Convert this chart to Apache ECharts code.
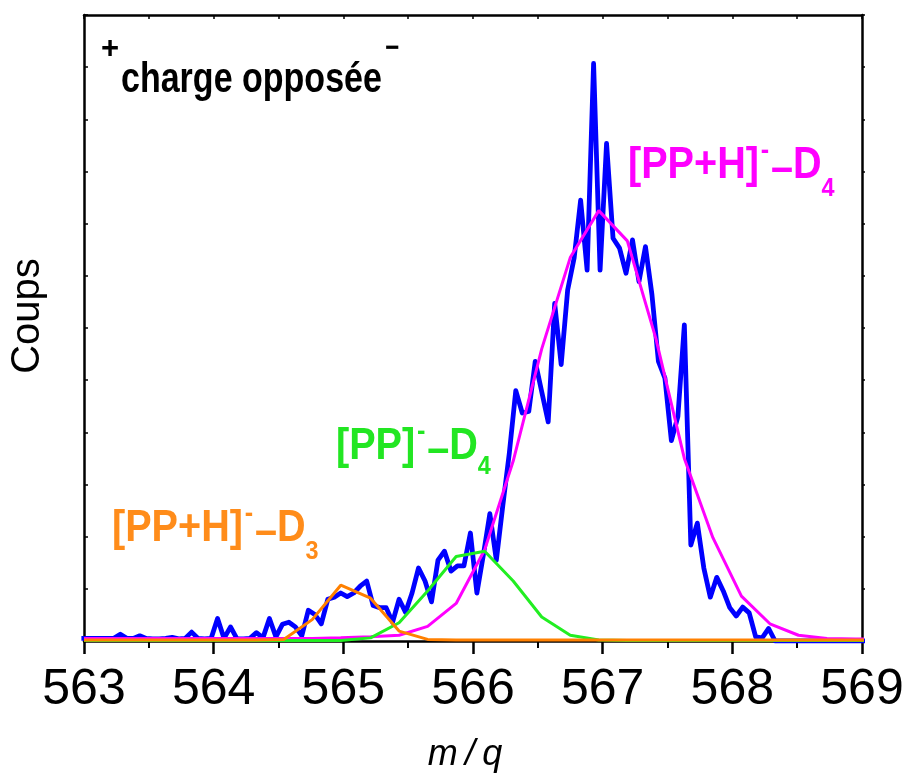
<!DOCTYPE html>
<html>
<head>
<meta charset="utf-8">
<script src="https://cdn.jsdelivr.net/npm/echarts@6/dist/echarts.min.js"></script>
<style>
html,body{margin:0;padding:0;background:#fff;}
#chart{width:904px;height:774px;}
</style>
</head>
<body>
<div id="chart"></div>
<script>
// ---- data ----
var blueX = [562.98,563.03,563.08,563.13,563.18,563.23,563.28,563.33,563.38,563.43,
563.48,563.53,563.58,563.63,563.68,563.73,563.78,563.83,563.88,563.93,
563.98,564.03,564.08,564.13,564.18,564.23,564.28,564.33,564.38,564.43,
564.48,564.53,564.58,564.63,564.68,564.73,564.78,564.83,564.88,564.93,
564.98,565.03,565.08,565.13,565.18,565.23,565.28,565.33,565.38,565.43,
565.48,565.53,565.58,565.63,565.68,565.73,565.78,565.83,565.88,565.93,
565.98,566.03,566.08,566.13,566.18,566.23,566.28,566.33,566.38,566.43,
566.48,566.53,566.58,566.63,566.68,566.73,566.78,566.83,566.88,566.93,
566.98,567.03,567.08,567.13,567.18,567.23,567.28,567.33,567.38,567.43,
567.48,567.53,567.58,567.63,567.68,567.73,567.78,567.83,567.88,567.93,
567.98,568.03,568.08,568.13,568.18,568.23,568.28,568.33,568.38,568.43,
568.48,568.53,568.58,568.63,568.68,568.73,568.78,568.83,568.88,568.93,
568.98,569.03];
var blueY = [0.05,0.05,0.05,0.05,0.05,0.05,0.13,0.05,0.05,0.10,
0.05,0.04,0.04,0.05,0.07,0.04,0.05,0.17,0.05,0.04,
0.05,0.43,0.05,0.27,0.04,0.04,0.05,0.16,0.06,0.43,
0.08,0.32,0.36,0.27,0.10,0.59,0.51,0.33,0.80,0.84,
0.92,0.85,0.92,1.05,1.15,0.68,0.64,0.64,0.36,0.80,
0.55,0.92,1.40,1.15,0.75,1.55,1.72,1.34,1.44,1.44,
2.07,0.92,1.65,2.44,1.55,2.60,3.60,4.80,4.37,4.40,
5.36,4.78,4.20,6.47,5.30,6.73,7.34,8.45,7.11,11.07,
7.11,9.54,7.72,7.53,7.05,7.69,6.89,7.56,6.64,5.36,
5.04,3.84,4.30,6.06,1.84,2.26,1.40,0.84,1.22,0.96,
0.64,0.48,0.65,0.54,0.08,0.06,0.24,0.00,0.00,0.00,
0.00,0.00,0.00,0.00,0.00,0.00,0.00,0.00,0.00,0.00,
0.00,0.00];

var fitX = [563.00,563.22,563.44,563.66,563.88,564.10,564.32,564.54,564.76,564.98,
565.21,565.43,565.65,565.87,566.09,566.31,566.53,566.75,566.97,567.19,
567.41,567.63,567.85,568.07,568.29,568.51,568.73,568.95,569.17];
var magentaY = [0.05,0.05,0.05,0.05,0.05,0.05,0.05,0.05,0.05,0.06,
0.08,0.11,0.28,0.72,1.75,3.45,5.60,7.35,8.25,7.67,
5.80,3.50,1.98,0.86,0.33,0.11,0.05,0.04,0.04];
var greenY = [0.01,0.01,0.01,0.01,0.01,0.01,0.01,0.01,0.01,0.01,
0.06,0.35,0.96,1.62,1.72,1.15,0.46,0.11,0.02,0.01,
0.01,0.01,0.01,0.01,0.01,0.01,0.01,0.01,0.01];
var orangeY = [0.02,0.02,0.02,0.02,0.02,0.02,0.02,0.03,0.41,1.07,
0.82,0.19,0.03,0.02,0.02,0.02,0.02,0.02,0.02,0.02,
0.02,0.02,0.02,0.02,0.02,0.02,0.02,0.02,0.02];

var xTicks = [563,564,565,566,567,568,569];

// ---- helpers ----
function pairs(xs, ys){ var o=[]; for (var i=0;i<xs.length;i++) o.push([xs[i], ys[i]]); return o; }
var FONT = "'Liberation Sans', Arial, Helvetica, sans-serif";
var mctx = document.createElement('canvas').getContext('2d');
function tw(text, size, bold){ mctx.font = (bold?'bold ':'') + size + 'px ' + FONT; return mctx.measureText(text).width; }
// label built from pieces flowing left to right: {t, size, rise, gap}; sx = horizontal condense factor
function label(x0, baseline, color, pieces, sx){
  var kids = [], x = 0;
  pieces.forEach(function(p){
    x += (p.gap || 0);
    kids.push({type:'text', silent:true, style:{
      text:p.t, x:x, y: baseline - p.rise - 0.3465*p.size,
      fill:color, fontSize:p.size, fontWeight:'bold', fontFamily:FONT,
      align:'left', verticalAlign:'middle'}});
    x += tw(p.t, p.size, true);
  });
  return {type:'group', x:x0, y:0, scaleX:sx || 1, scaleY:1, children:kids};
}

var chart = echarts.init(document.getElementById('chart'));
var axisLineStyle = {color:'#000', width:2.5};
var option = {
  animation:false,
  backgroundColor:'#fff',
  grid:{left:84, right:42, top:15, bottom:133, containLabel:false, outerBoundsMode:'none'},
  xAxis:[
    {type:'value', min:563, max:569, interval:1, position:'bottom',
     axisLine:{show:true, onZero:false, lineStyle:axisLineStyle},
     axisTick:{show:true, inside:false, length:13, lineStyle:{color:'#000', width:2.5}},
     minorTick:{show:true, splitNumber:2, length:7, lineStyle:{color:'#000', width:2}},
     splitLine:{show:false},
     axisLabel:{show:true, fontSize:50, color:'#000', margin:24, fontFamily:FONT,
       formatter:function(v){ return xTicks.indexOf(v)>=0 ? String(v) : ''; }},
     name:'m\u2009/\u2009q', nameLocation:'middle', nameGap:96,
     nameTextStyle:{fontSize:36, fontStyle:'italic', color:'#000', fontFamily:FONT, padding:[0,16,0,0]}},
    {type:'value', min:563, max:569, interval:0.5, position:'top',
     axisLine:{show:true, onZero:false, lineStyle:axisLineStyle},
     axisTick:{show:true, inside:true, length:4, lineStyle:{color:'#000', width:1.5}},
     splitLine:{show:false}, axisLabel:{show:false}}
  ],
  yAxis:[
    {type:'value', min:0, max:12, interval:1, position:'left',
     axisLine:{show:true, onZero:false, lineStyle:axisLineStyle},
     axisTick:{show:true, inside:true, length:4, lineStyle:{color:'#000', width:1.5}},
     splitLine:{show:false}, axisLabel:{show:false},
     name:'Coups', nameLocation:'middle', nameGap:36,
     nameTextStyle:{fontSize:40, color:'#000', fontFamily:FONT, padding:[0,0,0,24]}},
    {type:'value', min:0, max:12, interval:1, position:'right',
     axisLine:{show:true, onZero:false, lineStyle:axisLineStyle},
     axisTick:{show:true, inside:false, length:3, lineStyle:{color:'#000', width:1.5}},
     splitLine:{show:false}, axisLabel:{show:false}}
  ],
  series:[
    {name:'data', type:'line', data:pairs(blueX, blueY), showSymbol:false, symbol:'none',
     lineStyle:{color:'#0000ff', width:4.8, join:'round'}, itemStyle:{color:'#0000ff'}, z:2},
    {name:'[PP+H]-D4', type:'line', data:pairs(fitX, magentaY), showSymbol:false, symbol:'none',
     lineStyle:{color:'#ff00ff', width:3}, itemStyle:{color:'#ff00ff'}, z:3},
    {name:'[PP]-D4', type:'line', data:pairs(fitX, greenY), showSymbol:false, symbol:'none',
     lineStyle:{color:'#22ee22', width:3}, itemStyle:{color:'#22ee22'}, z:4},
    {name:'[PP+H]-D3', type:'line', data:pairs(fitX, orangeY), showSymbol:false, symbol:'none',
     lineStyle:{color:'#ff8000', width:3}, itemStyle:{color:'#ff8000'}, z:5}
  ],
  graphic:[
    label(101, 60, '#000', [{t:'+', size:31, rise:0}], 1),
    label(121, 95, '#000', [{t:'charge opposée', size:42, rise:0}, {t:'\u2212', size:30, rise:36, gap:4}], 0.81),
    label(628, 181, '#ff00ff', [{t:'[PP+H]', size:44, rise:0}, {t:'-', size:28, rise:20, gap:2},
      {t:'\u2013', size:44, rise:-4, gap:2}, {t:'D', size:44, rise:0}, {t:'4', size:26, rise:-17, gap:0}], 0.9),
    label(336, 462, '#22e622', [{t:'[PP]', size:44, rise:0}, {t:'-', size:28, rise:20, gap:2},
      {t:'\u2013', size:44, rise:-4, gap:2}, {t:'D', size:44, rise:0}, {t:'4', size:26, rise:-14, gap:0}], 0.9),
    label(112, 544, '#ff8c1a', [{t:'[PP+H]', size:44, rise:0}, {t:'-', size:28, rise:20, gap:2},
      {t:'\u2013', size:44, rise:-4, gap:2}, {t:'D', size:44, rise:0}, {t:'3', size:26, rise:-17, gap:0}], 0.9)
  ]
};
chart.setOption(option);
</script>
</body>
</html>
